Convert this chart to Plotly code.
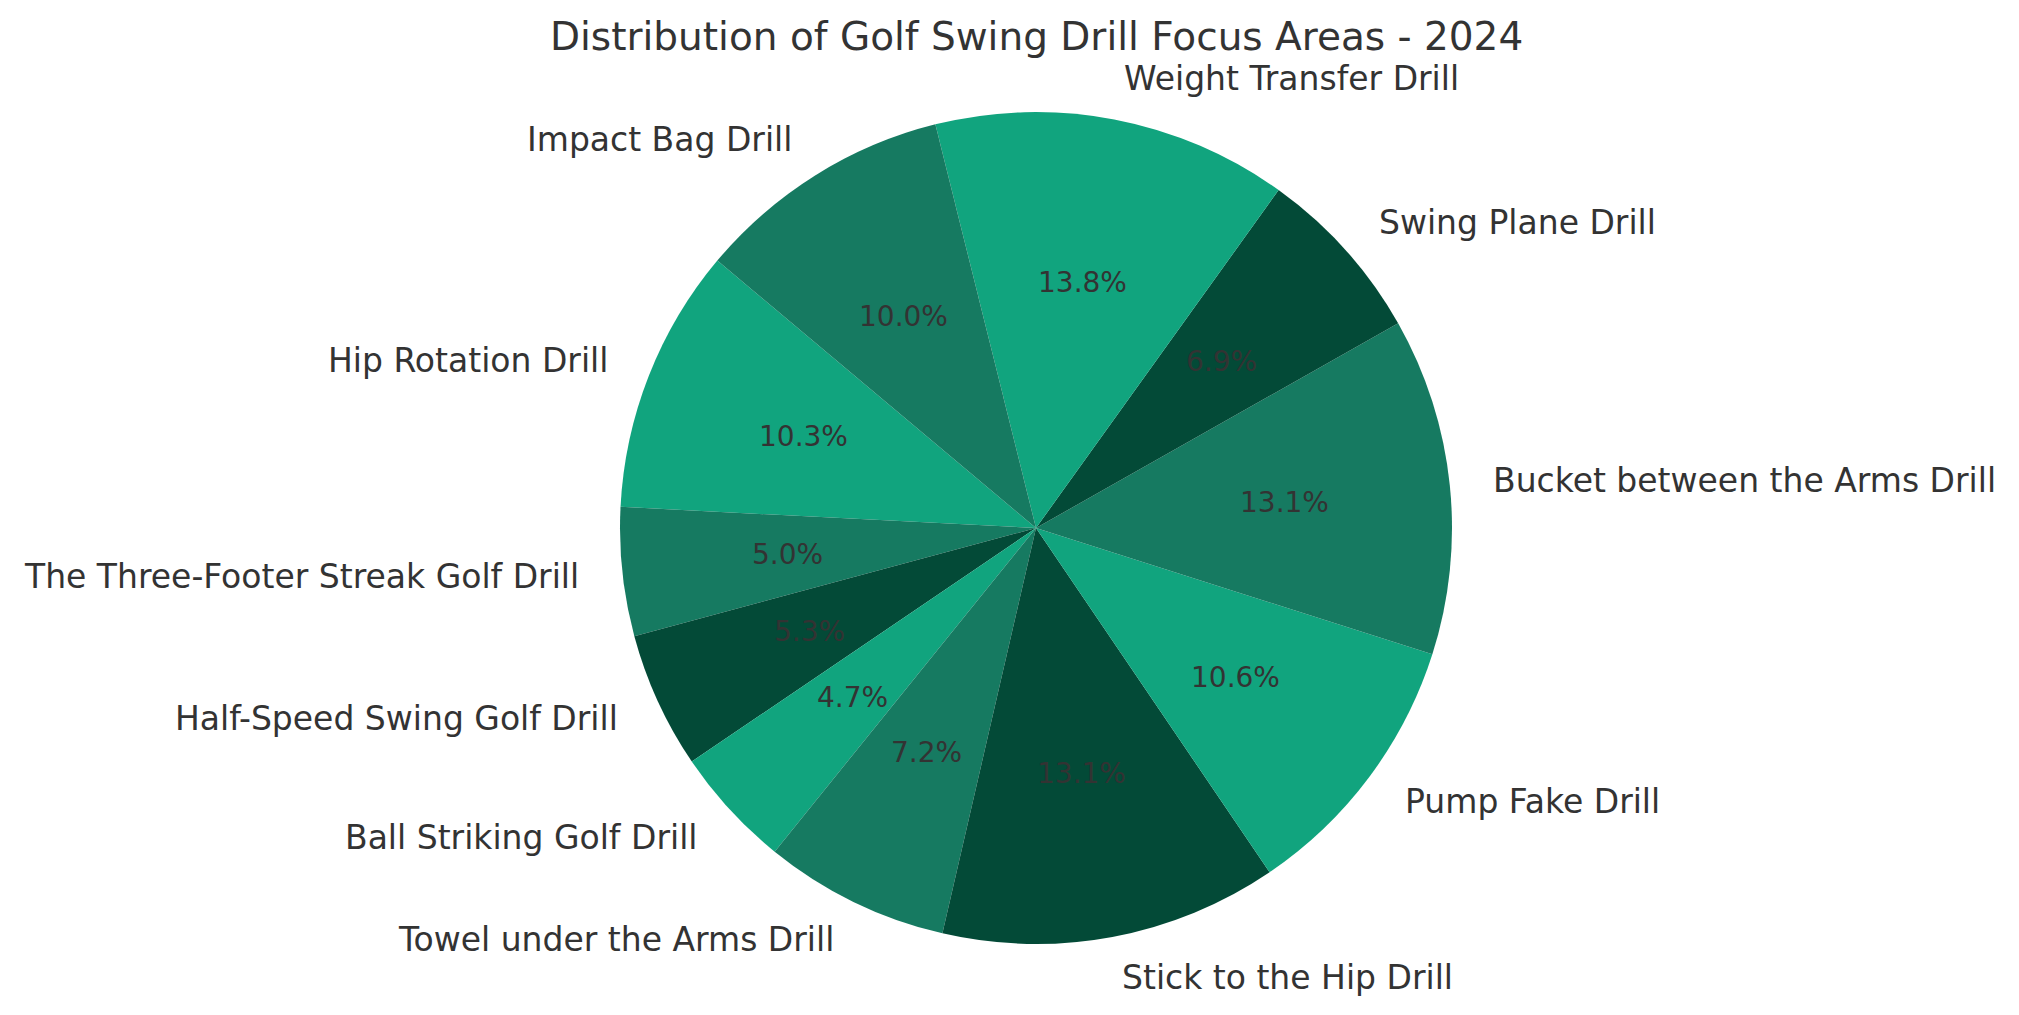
import numpy as np
import plotly.graph_objects as go

# drill categories, in the order they are drawn (counterclockwise)
drills = [
    "Hip Rotation Drill",
    "The Three-Footer Streak Golf Drill",
    "Half-Speed Swing Golf Drill",
    "Ball Striking Golf Drill",
    "Towel under the Arms Drill",
    "Stick to the Hip Drill",
    "Pump Fake Drill",
    "Bucket between the Arms Drill",
    "Swing Plane Drill",
    "Weight Transfer Drill",
    "Impact Bag Drill",
]
shares = [10.3, 5.0, 5.3, 4.7, 7.2, 13.1, 10.6, 13.1, 6.9, 13.8, 10.0]
palette = ["#11a47e", "#167a61", "#034a37"]

W, H = 2019, 1015
# page body has an 8px margin, so positions are shifted back by that
cx, cy, r = 1028, 520, 416
start_angle = 140  # degrees, counterclockwise from 3 o'clock
text_color = "#333333"
font = "DejaVu Sans"


def to_paper(px, py):
    return px / W, 1 - py / H


vals = np.array(shares, dtype=float)
frac = vals / vals.sum()
before = np.concatenate([[0], np.cumsum(frac)[:-1]])
mid = np.deg2rad(start_angle + 360 * (before + frac / 2))

fig = go.Figure()
fig.add_trace(
    go.Pie(
        labels=drills,
        values=shares,
        sort=False,
        direction="counterclockwise",
        # plotly shifts the first slice by its own size when counterclockwise
        rotation=-(start_angle - 90) - 360 * frac[0],
        marker=dict(
            colors=[palette[i % 3] for i in range(len(drills))],
            line=dict(width=0),
        ),
        textinfo="none",
        hoverinfo="label+percent",
        showlegend=False,
        domain=dict(
            x=[(cx - r) / W, (cx + r) / W],
            y=[1 - (cy + r) / H, 1 - (cy - r) / H],
        ),
    )
)

# labels at 1.1r and percentages at 0.6r along each slice's mid angle
annotations = []
for name, f, a in zip(drills, frac, mid):
    lx, ly = to_paper(cx + 1.1 * r * np.cos(a), cy - 1.1 * r * np.sin(a))
    annotations.append(
        dict(
            x=lx, y=ly, xref="paper", yref="paper", text=name,
            showarrow=False,
            xanchor="left" if np.cos(a) > 0 else "right",
            yanchor="middle",
            font=dict(family=font, size=33, color=text_color),
        )
    )
    px, py = to_paper(cx + 0.6 * r * np.cos(a), cy - 0.6 * r * np.sin(a))
    annotations.append(
        dict(
            x=px, y=py, xref="paper", yref="paper", text=f"{f * 100:.1f}%",
            showarrow=False, xanchor="center", yanchor="middle",
            font=dict(family=font, size=28, color=text_color),
        )
    )

tx, ty = to_paper(cx, 28)
annotations.append(
    dict(
        x=tx, y=ty, xref="paper", yref="paper",
        text="Distribution of Golf Swing Drill Focus Areas - 2024",
        showarrow=False, xanchor="center", yanchor="middle",
        font=dict(family=font, size=39, color=text_color),
    )
)

fig.update_layout(
    width=W,
    height=H,
    margin=dict(l=0, r=0, t=0, b=0),
    paper_bgcolor="white",
    plot_bgcolor="white",
    annotations=annotations,
)

fig.write_html("out.html")
